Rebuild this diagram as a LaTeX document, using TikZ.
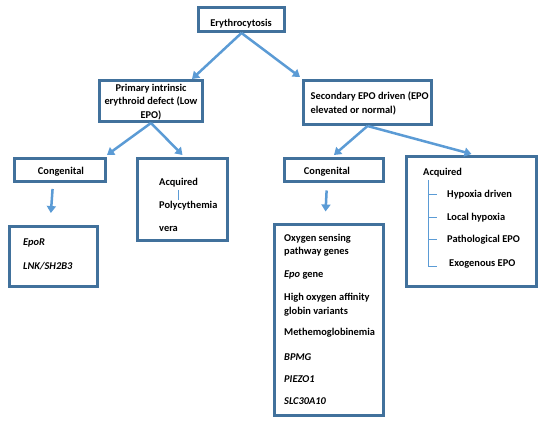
\documentclass[tikz,border=0pt]{standalone}
\usepackage{fontspec}
\setmainfont{Carlito}
\usetikzlibrary{arrows.meta}
\definecolor{boxblue}{HTML}{41719C}
\definecolor{arrowblue}{HTML}{5B9BD5}

\begin{document}
\begin{tikzpicture}
[
x=1pt,y=-1pt,
box/.style 2 args={draw=boxblue,line width=3pt,minimum width=#1,minimum height=#2,inner sep=0pt},
txt/.style={inner sep=0pt,font=\fontsize{10.4}{13.5}\selectfont\bfseries},
item/.style={txt,anchor=west,align=left},
arr/.style={draw=arrowblue,line width=2.5pt,-{Triangle[length=7pt,width=9pt]}},
tick/.style={draw=arrowblue,line width=1pt},
]
\useasboundingbox (0,0) rectangle (550,427);

%Place the boxes
\node[box={86pt}{24pt}] (ery) at (241.5,19.5) {};
\node[box={103pt}{41pt}] (pri) at (151,101) {};
\node[box={128pt}{44pt}] (sec) at (367.5,102.5) {};
\node[box={91pt}{23pt}] (cgl) at (60,170) {};
\node[box={90pt}{82pt}] (apv) at (182.5,199.5) {};
\node[box={88pt}{60pt}] (gen) at (53.5,256.5) {};
\node[box={99pt}{23pt}] (cgr) at (334,170) {};
\node[box={130pt}{130pt}] (acq) at (471.5,221.5) {};
\node[box={109pt}{191pt}] (lst) at (329,320) {};

%Place the texts
\node[txt] (t-ery) at (241,24) {Erythrocytosis};
\node[txt,align=center] (t-pri) at (151,102) {Primary intrinsic\\erythroid defect (Low\\EPO)};
\node[item] (t-sec) at (310.5,103.5) {Secondary EPO driven (EPO\\elevated or normal)};
\node[txt] (t-cgl) at (61,172) {Congenital};
\node[txt] (t-cgr) at (327,172) {Congenital};
\node[item] (aq1) at (159,183) {Acquired};
\node[item] (pv1) at (159,206) {Polycythemia};
\node[item] (pv2) at (159,229) {vera};
\node[item] (g1) at (23,243) {\itshape EpoR};
\node[item] (g2) at (23,266) {\itshape LNK/SH2B3};
\node[item] (aq2) at (423,173) {Acquired};
\node[item] (h1) at (447,195) {Hypoxia driven};
\node[item] (h2) at (447,218) {Local hypoxia};
\node[item] (h3) at (447,240) {Pathological EPO};
\node[item] (h4) at (449,264) {Exogenous EPO};
\node[item] (l1) at (284,245) {Oxygen sensing\\pathway genes};
\node[item] (l2) at (284,275) {{\itshape Epo} gene};
\node[item] (l3) at (284,304.5) {High oxygen affinity\\globin variants};
\node[item] (l4) at (284,333) {Methemoglobinemia};
\node[item] (l5) at (284,357) {\itshape BPMG};
\node[item] (l6) at (284,379) {\itshape PIEZO1};
\node[item] (l7) at (284,401) {\itshape SLC30A10};
\coordinate (ax) at (428,180);

%Draw the connections
\draw[arr] (ery.south) -- ([xshift=-12pt]pri.north east);
\draw[arr] (ery.south) -- ([xshift=-2pt,yshift=2pt]sec.north west);
\draw[arr] (pri.south) -- ([yshift=2pt]cgl.north east);
\draw[arr] (pri.south) -- ([yshift=2pt]apv.north);
\draw[arr] (sec.south) -- ([yshift=2pt]cgr.north);
\draw[arr] (sec.south) -- ([yshift=1pt]acq.north);
\draw[arr,shorten <=6pt,shorten >=12pt] ([xshift=-7pt]cgl.south) -- ([xshift=-3.5pt]gen.north);
\draw[arr,shorten <=7.5pt,shorten >=11.5pt] ([xshift=-7pt]cgr.south) -- ([xshift=-4pt]lst.north);
\draw[tick,shorten <=2pt,shorten >=1pt] (aq1.south) -- (aq1.south |- pv1.north);
\draw[tick] (ax) |- ([xshift=-12pt,yshift=-3pt]h4.west);
\draw[tick] (ax |- h1.west) -- ([xshift=-10pt]h1.west);
\draw[tick] (ax |- h2.west) -- ([xshift=-10pt]h2.west);
\draw[tick] (ax |- h3.west) -- ([xshift=-10pt]h3.west);
\end{tikzpicture}
\end{document}
